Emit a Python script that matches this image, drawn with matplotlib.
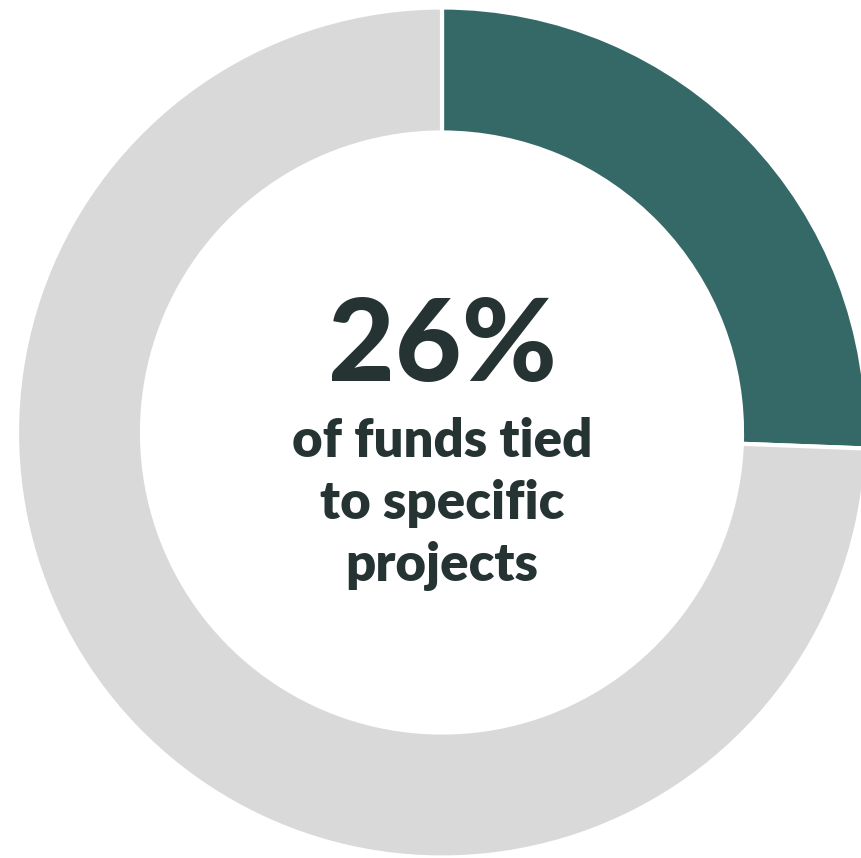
import matplotlib
matplotlib.use("Agg")
import matplotlib.pyplot as plt

# Data
labels = ["Tied to specific projects", "Other funds"]
values = [25.6, 74.4]
colors = ["#356967", "#d9d9d9"]
headline = "26%"
subtitle_lines = ["of funds tied", "to specific", "projects"]

W, H = 861, 858
fig = plt.figure(figsize=(W / 100, H / 100), dpi=100)
ax = fig.add_axes([0, 0, 1, 1])

R = 425.0
cx, cy = 442.0, 432.5  # pixel coords (y from top)

ax.pie(values, colors=colors, startangle=90, counterclock=False,
       radius=1.0,
       wedgeprops=dict(width=125 / R, edgecolor="white", linewidth=3))

ax.set_xlim(-cx / R, (W - cx) / R)
ax.set_ylim(-(H - cy) / R, cy / R)
ax.set_aspect("auto")
ax.axis("off")

def py(p):
    return (cy - p) / R

txt_color = "#253433"
ax.text(0, py(381), headline, ha="center", va="baseline", fontsize=83,
        fontfamily="Lato", fontweight="black", color=txt_color)
baselines = [457, 519, 581]
for line, b in zip(subtitle_lines, baselines):
    ax.text(0, py(b), line, ha="center", va="baseline", fontsize=38,
            fontfamily="Lato", fontweight="heavy", color=txt_color)

fig.savefig("out.png", dpi=100)
